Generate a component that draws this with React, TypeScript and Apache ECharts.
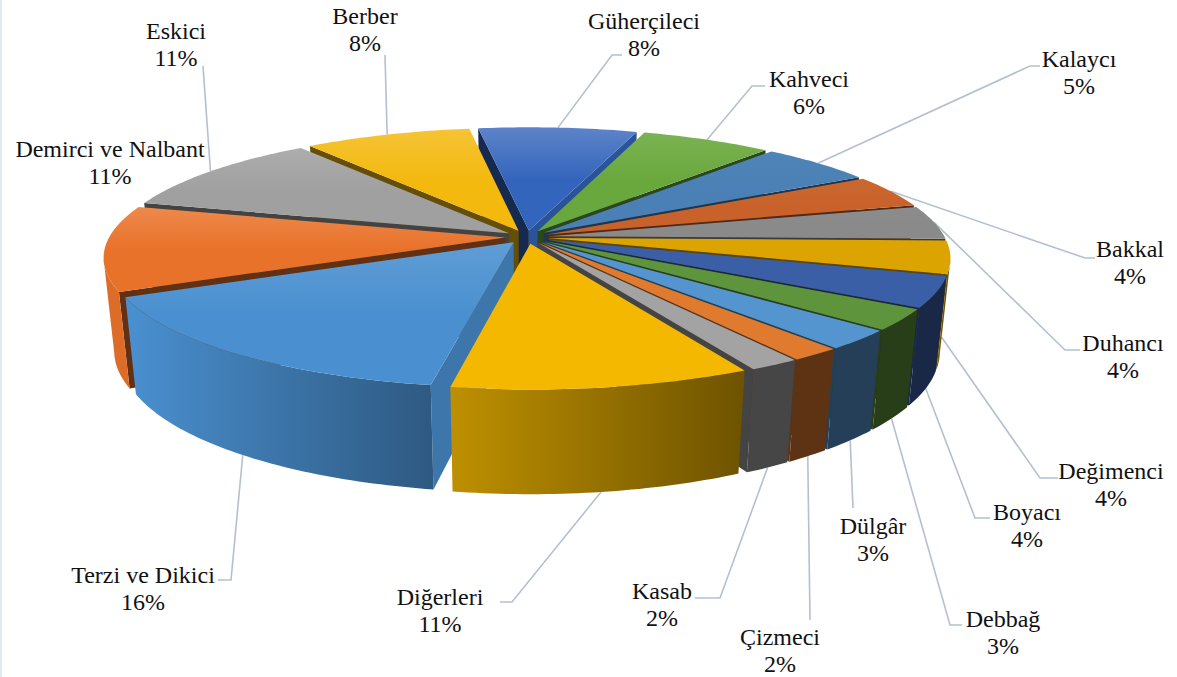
import React, { useEffect, useRef } from "react";
import * as echarts from "echarts";

const categories = ["Güherçileci","Kahveci","Kalaycı","Bakkal","Duhancı","Değimenci","Boyacı","Debbağ","Dülgâr","Çizmeci","Kasab","Diğerleri","Terzi ve Dikici","Demirci ve Nalbant","Eskici","Berber"];
const values = [7.5,6.2,5.4,4.3,4.4,4.3,4.0,2.75,2.55,1.76,1.77,10.4,15.45,11.15,10.6,7.9];
const percentLabels = ["8%","6%","5%","4%","4%","4%","4%","3%","3%","2%","2%","11%","16%","11%","11%","8%"];

const colors = ["#3465BC","#69A83C","#4A80B5","#C8622A","#8A8A8A","#DBA400","#3A5FA6","#5E943B","#5595CF","#E07A2F","#A3A3A3","#F4B800","#4A90D0","#E9722A","#A0A0A0","#F3B90F"];
const topLight = [0.2,0.12,0.03,0.03,0.02,0,0,0,0,0,0,0,0.12,0.16,0.14,0.16];
const wallLeft = [1,1,1,1,1,0.55,0.42,0.42,0.42,0.42,0.43,0.78,1,0.95,1,1];
const wallRight = [1,1,1,1,1,0.5,0.42,0.42,0.42,0.42,0.43,0.45,0.62,0.95,1,1];

const labelAt = [[644,34],[809,92],[1079,72],[1130,262],[1123,356],[1111,484],[1027,525],[1003,632],[873,539],[780,650],[662,604],[440,610],[143,588],[110,162],[176,44],[365,29]];
const leaderPath: number[][][] = [[[612,55],[622,55]],[[752,86],[765,86]],[[1030,66],[1040,66]],[[1085,258],[1095,258]],[[1065,350],[1080,350]],[[1040,478],[1058,478]],[[975,518],[990,518]],[[950,625],[962,625]],[[853,508]],[[810,620]],[[720,598],[695,598]],[[512,602],[500,602]],[[231,580],[218,580]],[],[[203,66]],[[385,55]]];
const leaderDepth = [0,0,0,0,0,0.85,1,1,1,1,1,1,1,0,0,0];

const CX = 527, CY = 237, R = 396, B = 121, H = 94, K = 0.155, M = 0.025, EXPLODE = 0.055, START = -8.5;
const total = values.reduce((a, b) => a + b, 0);
const rad = (d: number) => (d * Math.PI) / 180;

const spans = (() => {
  let a = START;
  return values.map((v) => {
    const s = a;
    a += (v / total) * 360;
    return [s, a];
  });
})();

function offsetOf(i: number) {
  const m = rad((spans[i][0] + spans[i][1]) / 2);
  return [EXPLODE * Math.sin(m), -EXPLODE * Math.cos(m)];
}
function project(u: number, v: number, z: number) {
  const s = 1 / (1 - K * v + M * z);
  return [CX + R * u * s, CY + (B * v + H * z) * s];
}
function rimPoint(i: number, deg: number, z: number) {
  const o = offsetOf(i);
  return project(o[0] + Math.sin(rad(deg)), o[1] - Math.cos(rad(deg)), z);
}
function apexPoint(i: number, z: number) {
  const o = offsetOf(i);
  return project(o[0], o[1], z);
}
function rgb(hex: string) {
  return [1, 3, 5].map((p) => parseInt(hex.slice(p, p + 2), 16));
}
function shade(hex: string, f: number) {
  const c = rgb(hex).map((x) => Math.round(x * f));
  return `rgb(${c[0]},${c[1]},${c[2]})`;
}
function lighten(hex: string, a: number) {
  const c = rgb(hex).map((x) => Math.round(x + (255 - x) * a));
  return `rgb(${c[0]},${c[1]},${c[2]})`;
}

function renderSlice(_params: any, api: any) {
  const i = api.value(1);
  const [a0, a1] = spans[i];
  const col = colors[i];
  const children: any[] = [];
  const o = offsetOf(i);
  const camU = -o[0], camV = 1 / K - o[1];
  const wall = (deg: number, sign: number) => {
    const nu = sign * Math.cos(rad(deg)), nv = sign * Math.sin(rad(deg));
    if (nu * camU + nv * camV <= 0) return;
    const pts = [apexPoint(i, 0), rimPoint(i, deg, 0), rimPoint(i, deg, 1), apexPoint(i, 1)];
    children.push({ type: "polygon", shape: { points: pts }, style: { fill: shade(col, nu > 0.85 ? 0.82 : 0.42) } });
  };
  wall(a0, -1);
  wall(a1, 1);
  // outer wall: only the part that faces the viewer
  const tops: number[][] = [], bottoms: number[][] = [];
  const steps = Math.max(4, Math.ceil(a1 - a0));
  for (let k = 0; k <= steps; k++) {
    const d = a0 + ((a1 - a0) * k) / steps;
    if (-Math.cos(rad(d)) >= K) {
      tops.push(rimPoint(i, d, 0));
      bottoms.unshift(rimPoint(i, d, 1));
    }
  }
  if (tops.length > 1) {
    children.push({
      type: "polygon",
      shape: { points: tops.concat(bottoms) },
      style: {
        fill: new echarts.graphic.LinearGradient(0, 0, 1, 0, [
          { offset: 0, color: shade(col, wallLeft[i]) },
          { offset: 1, color: shade(col, wallRight[i]) },
        ]),
      },
    });
  }
  const top: number[][] = [apexPoint(i, 0)];
  for (let k = 0; k <= steps; k++) top.push(rimPoint(i, a0 + ((a1 - a0) * k) / steps, 0));
  children.push({
    type: "polygon",
    shape: { points: top },
    style: {
      fill: new echarts.graphic.LinearGradient(0, 0, 0, 1, [
        { offset: 0, color: lighten(col, topLight[i]) },
        { offset: 0.5, color: col },
        { offset: 1, color: col },
      ]),
    },
  });
  return { type: "group", children };
}

export default function App() {
  const ref = useRef<HTMLDivElement>(null);
  useEffect(() => {
    document.body.style.margin = "0";
    const chart = echarts.init(ref.current!, null, { renderer: "svg" });
    const order = values
      .map((v, i) => ({ v, i, depth: -Math.cos(rad((spans[i][0] + spans[i][1]) / 2)) }))
      .sort((a, b) => a.depth - b.depth);
    const graphics: any[] = [
      { type: "rect", shape: { x: 0, y: 0, width: 2, height: 677 }, style: { fill: "#E3E8F0" }, silent: true },
    ];
    categories.forEach((name, i) => {
      if (leaderPath[i].length) {
        const mid = (spans[i][0] + spans[i][1]) / 2;
        graphics.push({
          type: "polyline",
          shape: { points: [rimPoint(i, mid, leaderDepth[i]), ...leaderPath[i]] },
          style: { stroke: "#B4C0D2", lineWidth: 1.6, fill: "none" },
          silent: true,
          z: 1,
        });
      }
      graphics.push({
        type: "text",
        x: labelAt[i][0],
        y: labelAt[i][1],
        style: {
          text: `${name}\n${percentLabels[i]}`,
          font: '24px "Liberation Serif"',
          fill: "#111111",
          align: "center",
          verticalAlign: "middle",
          lineHeight: 27,
        },
        z: 3,
      });
    });
    chart.setOption({
      animation: false,
      backgroundColor: "#FFFFFF",
      graphic: graphics,
      series: [
        {
          type: "custom",
          coordinateSystem: "none",
          renderItem: renderSlice,
          data: order.map((o) => [o.v, o.i]),
          z: 2,
          silent: true,
        },
      ],
    });
    return () => chart.dispose();
  }, []);
  return <div ref={ref} style={{ width: 1177, height: 677 }} />;
}
